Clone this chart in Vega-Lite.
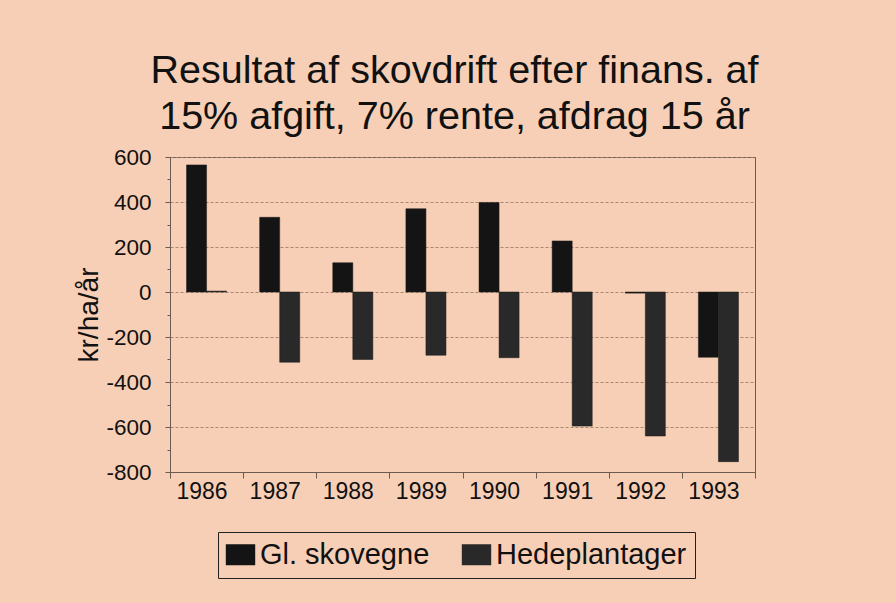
{
  "$schema": "https://vega.github.io/schema/vega-lite/v6.json",
  "autosize": "none",
  "width": 585,
  "height": 315,
  "padding": {"left": 170, "top": 157, "right": 141, "bottom": 131},
  "background": "#f7cfb6",
  "config": {
    "font": "Liberation Sans",
    "view": {"stroke": "#6b5a50", "strokeWidth": 1}
  },
  "title": {
    "text": ["Resultat af skovdrift efter finans. af", "15% afgift, 7% rente, afdrag 15 år"],
    "fontSize": 39.5,
    "fontWeight": "normal",
    "lineHeight": 46,
    "color": "#111111",
    "anchor": "middle",
    "dx": -8,
    "offset": 9
  },
  "data": {
    "values": [
      {"year": "1986", "type": "Gl. skovegne", "value": 565},
      {"year": "1986", "type": "Hedeplantager", "value": 4},
      {"year": "1987", "type": "Gl. skovegne", "value": 332},
      {"year": "1987", "type": "Hedeplantager", "value": -312},
      {"year": "1988", "type": "Gl. skovegne", "value": 130},
      {"year": "1988", "type": "Hedeplantager", "value": -300},
      {"year": "1989", "type": "Gl. skovegne", "value": 370},
      {"year": "1989", "type": "Hedeplantager", "value": -281},
      {"year": "1990", "type": "Gl. skovegne", "value": 398},
      {"year": "1990", "type": "Hedeplantager", "value": -292},
      {"year": "1991", "type": "Gl. skovegne", "value": 227},
      {"year": "1991", "type": "Hedeplantager", "value": -596},
      {"year": "1992", "type": "Gl. skovegne", "value": -5},
      {"year": "1992", "type": "Hedeplantager", "value": -640},
      {"year": "1993", "type": "Gl. skovegne", "value": -290},
      {"year": "1993", "type": "Hedeplantager", "value": -754}
    ]
  },
  "mark": {"type": "bar", "stroke": "#1a1a1a", "strokeWidth": 0.5},
  "encoding": {
    "x": {
      "field": "year",
      "type": "nominal",
      "scale": {"paddingInner": 0, "paddingOuter": 0},
      "axis": {
        "title": null,
        "labelAngle": 0,
        "labelFontSize": 23,
        "labelColor": "#111111",
        "labelPadding": 2,
        "labelOffset": -5,
        "tickBand": "extent",
        "tickSize": 6,
        "tickColor": "#6b5a50",
        "domainColor": "#6b5a50",
        "grid": false
      }
    },
    "xOffset": {
      "field": "type",
      "type": "nominal",
      "scale": {"paddingInner": 0, "paddingOuter": 0.825}
    },
    "y": {
      "field": "value",
      "type": "quantitative",
      "scale": {"domain": [-800, 600], "nice": false},
      "axis": {
        "title": "kr/ha/år",
        "titleFontSize": 28,
        "titleFontWeight": "normal",
        "titleColor": "#111111",
        "titlePadding": 2,
        "values": [-800, -700, -600, -500, -400, -300, -200, -100, 0, 100, 200, 300, 400, 500, 600],
        "labelExpr": "datum.value % 200 === 0 ? '' + datum.value : ''",
        "labelFontSize": 22.5,
        "labelColor": "#111111",
        "labelPadding": 14,
        "tickSize": {"condition": {"test": "datum.value % 200 === 0", "value": 5}, "value": 3},
        "tickColor": "#6b5a50",
        "domainColor": "#6b5a50",
        "grid": true,
        "gridColor": "#a0806a",
        "gridDash": [3, 2],
        "gridOpacity": {"condition": {"test": "datum.value % 200 === 0", "value": 0.9}, "value": 0}
      }
    },
    "color": {
      "field": "type",
      "type": "nominal",
      "scale": {"domain": ["Gl. skovegne", "Hedeplantager"], "range": ["#141414", "#292929"]},
      "legend": {
        "title": null,
        "orient": "none",
        "legendX": 48,
        "legendY": 375,
        "direction": "horizontal",
        "fillColor": "#f7cfb6",
        "strokeColor": "#222222",
        "padding": 8,
        "labelFontSize": 29,
        "labelLimit": 0,
        "labelColor": "#111111",
        "labelOffset": 5,
        "columnPadding": 31,
        "symbolType": "M-1.4,-1H1.4V1H-1.4Z",
        "symbolSize": 441,
        "symbolStrokeWidth": 0,
        "symbolOpacity": 1
      }
    }
  }
}
